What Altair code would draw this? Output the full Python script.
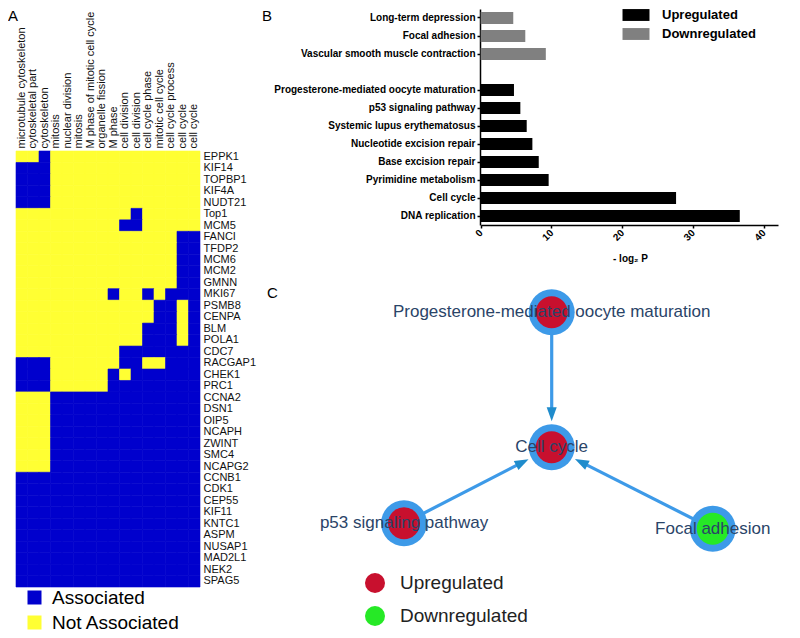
import json
import math
import pandas as pd
import altair as alt

FONT = "Liberation Sans"

# ---------------- Panel A: gene / GO-term association heatmap ----------------
terms = ["microtubule cytoskeleton", "cytoskeletal part", "cytoskeleton", "mitosis",
         "nuclear division", "mitosis", "M phase of mitotic cell cycle", "organelle fission",
         "M phase", "cell division", "cell division", "cell cycle phase", "mitotic cell cycle",
         "cell cycle process", "cell cycle", "cell cycle"]
genes = ["EPPK1", "KIF14", "TOPBP1", "KIF4A", "NUDT21", "Top1", "MCM5", "FANCI", "TFDP2",
         "MCM6", "MCM2", "GMNN", "MKI67", "PSMB8", "CENPA", "BLM", "POLA1", "CDC7", "RACGAP1",
         "CHEK1", "PRC1", "CCNA2", "DSN1", "OIP5", "NCAPH", "ZWINT", "SMC4", "NCAPG2", "CCNB1",
         "CDK1", "CEP55", "KIF11", "KNTC1", "ASPM", "NUSAP1", "MAD2L1", "NEK2", "SPAG5"]
# 1 = Associated, 0 = Not Associated (one string per gene, one char per term)
assoc = ["0010000000000000", "1110000000000000", "1110000000000000", "1110000000000000",
         "1110000000000000", "0000000000100000", "0000000001100000", "0000000000000011",
         "0000000000000011", "0000000000000011", "0000000000000011", "0000000000000011",
         "0000000010010111", "0000000000001101", "0000000000001101", "0000000000011101",
         "0000000000011101", "0000000001111111", "1110000001100111", "1110000010111111",
         "1110000011111111", "0001111111111111", "0001111111111111", "0001111111111111",
         "0001111111111111", "0001111111111111", "0001111111111111", "0001111111111111",
         "1111111111111111", "1111111111111111", "1111111111111111", "1111111111111111",
         "1111111111111111", "1111111111111111", "1111111111111111", "1111111111111111",
         "1111111111111111", "1111111111111111"]
status_names = ["Associated", "Not Associated"]
status_colors = ["#0000cd", "#ffff33"]

# ---------------- Panel B: KEGG pathway enrichment ----------------
down_paths = ["Long-term depression", "Focal adhesion", "Vascular smooth muscle contraction"]
down_vals = [4.6, 6.3, 9.2]
up_paths = ["Progesterone-mediated oocyte maturation", "p53 signaling pathway",
            "Systemic lupus erythematosus", "Nucleotide excision repair",
            "Base excision repair", "Pyrimidine metabolism", "Cell cycle", "DNA replication"]
up_vals = [4.7, 5.6, 6.5, 7.3, 8.2, 9.6, 27.6, 36.6]
direction_names = ["Upregulated", "Downregulated"]
direction_colors = ["#000000", "#808080"]
x_ticks = [0, 10, 20, 30, 40]

# ---------------- Panel C: pathway network ----------------
node_names = ["Progesterone-mediated oocyte maturation", "Cell cycle",
              "p53 signaling pathway", "Focal adhesion"]
node_x = [0.0, 0.0, -1.094, 1.193]
node_y = [1.0, 0.0, -0.563, -0.603]
node_reg = ["Upregulated", "Upregulated", "Upregulated", "Downregulated"]
edge_source = ["Progesterone-mediated oocyte maturation", "p53 signaling pathway", "Focal adhesion"]
edge_target = ["Cell cycle", "Cell cycle", "Cell cycle"]
reg_colors = ["#c8102e", "#26e926"]

# ======================= build tables =======================
heat_rows = []
for g, s in zip(genes, assoc):
    for i, ch in enumerate(s):
        heat_rows.append({"gene": g, "term": i,
                          "status": status_names[0] if ch == "1" else status_names[1]})
df_heat = pd.DataFrame(heat_rows)

y_order = down_paths + [" "] + up_paths
df_bar = pd.DataFrame({
    "pathway": down_paths + up_paths,
    "value": down_vals + up_vals,
    "direction": [direction_names[1]] * len(down_paths) + [direction_names[0]] * len(up_paths),
})

df_nodes = pd.DataFrame({"name": node_names, "x": node_x, "y": node_y, "reg": node_reg})
pos = {n: (x, y) for n, x, y in zip(node_names, node_x, node_y)}
UNIT_PX = 135.0
edge_rows = []
for s, t in zip(edge_source, edge_target):
    sx, sy = pos[s]
    tx, ty = pos[t]
    dx, dy = tx - sx, ty - sy
    L = math.hypot(dx, dy)
    ux, uy = dx / L, dy / L
    back = 33.0 / UNIT_PX
    ax, ay = tx - ux * back, ty - uy * back
    ang = math.degrees(math.atan2(ux, uy)) % 360
    edge_rows.append({"x": sx, "y": sy, "x2": ax, "y2": ay, "ang": ang})
df_edges = pd.DataFrame(edge_rows)

# ======================= Panel A =======================
W_A, H_A = 254, 620
terms_js = json.dumps(terms)
color_A = alt.Scale(domain=status_names, range=status_colors)
heat = alt.Chart(df_heat).mark_rect(strokeWidth=0.6).encode(
    x=alt.X("term:O",
            scale=alt.Scale(domain=list(range(len(terms))), range=[8, 192],
                            paddingInner=0, paddingOuter=0),
            axis=alt.Axis(orient="top", offset=-143, labelAngle=270, labelAlign="left",
                          labelBaseline="middle", labelExpr=f"{terms_js}[datum.value]",
                          labelFont=FONT, labelFontSize=11, labelColor="#111",
                          labelPadding=3, ticks=False, domain=False, title=None,
                          labelOverlap=False, labelLimit=220)),
    y=alt.Y("gene:N",
            scale=alt.Scale(domain=genes, range=[143, 579], paddingInner=0, paddingOuter=0),
            axis=alt.Axis(orient="right", offset=-62, labelFont=FONT, labelFontSize=11,
                          labelColor="#111", labelPadding=3, ticks=False, domain=False,
                          title=None, labelOverlap=False)),
    color=alt.Color("status:N", scale=color_A,
                    legend=alt.Legend(orient="none", legendX=17, legendY=580, title=None,
                                      symbolType="square", symbolSize=196,
                                      symbolStrokeWidth=0, symbolOpacity=1,
                                      labelFont=FONT, labelFontSize=19, labelColor="#000",
                                      labelOffset=8, rowPadding=5, padding=0)),
    stroke=alt.Stroke("status:N", scale=color_A, legend=None),
)
letter_A = alt.Chart(pd.DataFrame({"t": ["A"]})).mark_text(
    font=FONT, fontSize=15, align="left", baseline="top", color="#000"
).encode(text="t:N", x=alt.value(0), y=alt.value(1))
panelA = alt.layer(heat, letter_A).properties(width=W_A, height=H_A)

# ======================= Panel B =======================
W_B, H_B = 530, 262
bars = alt.Chart(df_bar).mark_bar().encode(
    y=alt.Y("pathway:N",
            scale=alt.Scale(domain=y_order, range=[1, 217], paddingInner=0.33, paddingOuter=0.165),
            axis=alt.Axis(orient="left", offset=-218, labelFont=FONT, labelFontSize=10,
                          labelFontWeight="bold", labelColor="#000", labelLimit=320,
                          labelPadding=2, tickSize=3, tickWidth=1.5, tickColor="#000",
                          tickOpacity={"condition": {"test": "datum.value === ' '", "value": 0},
                                       "value": 1},
                          domainColor="#000", domainWidth=1.5, title=None,
                          labelOverlap=False)),
    x=alt.X("value:Q",
            scale=alt.Scale(domain=[0, 42], range=[218.7, 516], nice=False, zero=True),
            axis=alt.Axis(orient="bottom", offset=-45, values=x_ticks, format="d",
                          labelAngle=-45, labelAlign="right", labelBaseline="middle",
                          labelFont=FONT, labelFontSize=10, labelFontWeight="bold",
                          labelColor="#000", labelPadding=3, tickSize=3, tickWidth=1.5,
                          tickColor="#000", domainColor="#000", domainWidth=1.5, grid=False,
                          title="- log\u2082 P", titleFont=FONT, titleFontSize=10,
                          titleFontWeight="bold", titleColor="#000", titleX=368, titleY=33,
                          titleBaseline="middle", titleAlign="center")),
    color=alt.Color("direction:N",
                    scale=alt.Scale(domain=direction_names, range=direction_colors),
                    legend=alt.Legend(orient="none", legendX=367, legendY=0, title=None,
                                      symbolType="M-2,-0.88L2,-0.88L2,0.88L-2,0.88Z",
                                      symbolSize=182, symbolStrokeWidth=0, symbolOpacity=1,
                                      labelFont=FONT, labelFontSize=13, labelFontWeight="bold",
                                      labelColor="#000", labelOffset=19, rowPadding=5,
                                      padding=0)),
)
letter_B = alt.Chart(pd.DataFrame({"t": ["B"]})).mark_text(
    font=FONT, fontSize=15, align="left", baseline="top", color="#000"
).encode(text="t:N", x=alt.value(0), y=alt.value(1))
panelB = alt.layer(bars, letter_B).properties(width=W_B, height=H_B)

# ======================= Panel C =======================
W_C, H_C = 530, 358
xs = alt.Scale(domain=[-2, 2], range=[19.7, 559.7], nice=False, zero=False)
ys = alt.Scale(domain=[-2, 2], range=[447.3, -92.7], nice=False, zero=False)

edges = alt.Chart(df_edges).mark_rule(color="#3d9ae8", strokeWidth=3.2).encode(
    x=alt.X("x:Q", scale=xs, axis=None), y=alt.Y("y:Q", scale=ys, axis=None),
    x2="x2:Q", y2="y2:Q")
arrows = alt.Chart(df_edges).mark_point(
    shape="M0,-1L0.72,1L-0.72,1Z", filled=True, size=196, opacity=1, color="#1f8ccc"
).encode(x=alt.X("x2:Q", scale=xs, axis=None), y=alt.Y("y2:Q", scale=ys, axis=None),
         angle=alt.Angle("ang:Q", scale=alt.Scale(domain=[0, 360], range=[0, 360])))
outer = alt.Chart(df_nodes).mark_circle(size=2116, opacity=1, color="#3d9ae8").encode(
    x=alt.X("x:Q", scale=xs, axis=None), y=alt.Y("y:Q", scale=ys, axis=None))
inner = alt.Chart(df_nodes).mark_circle(size=1024, opacity=1).encode(
    x=alt.X("x:Q", scale=xs, axis=None), y=alt.Y("y:Q", scale=ys, axis=None),
    color=alt.Color("reg:N", scale=alt.Scale(domain=direction_names, range=reg_colors),
                    legend=alt.Legend(orient="none", legendX=103, legendY=303, title=None,
                                      symbolType="circle", symbolSize=400,
                                      symbolStrokeWidth=0, symbolOpacity=1,
                                      labelFont=FONT, labelFontSize=19, labelColor="#222",
                                      labelOffset=15, rowPadding=13, padding=0)))
labels = alt.Chart(df_nodes).mark_text(
    font=FONT, fontSize=17, color="#2a4468", align="center", baseline="middle"
).encode(x=alt.X("x:Q", scale=xs, axis=None), y=alt.Y("y:Q", scale=ys, axis=None),
         text="name:N")
letter_C = alt.Chart(pd.DataFrame({"t": ["C"]})).mark_text(
    font=FONT, fontSize=15, align="left", baseline="alphabetic", color="#000"
).encode(text="t:N", x=alt.value(5), y=alt.value(28))
panelC = alt.layer(edges, arrows, outer, inner, labels, letter_C).properties(width=W_C, height=H_C)

right = alt.vconcat(panelB, panelC, spacing=0, bounds="flush").resolve_scale(color="independent")
chart = (alt.hconcat(panelA, right, spacing=0, bounds="flush")
         .resolve_scale(color="independent")
         .properties(padding=0)
         .configure_view(strokeWidth=0))

chart.save("out.html", embed_options={"renderer": "svg", "actions": False})
